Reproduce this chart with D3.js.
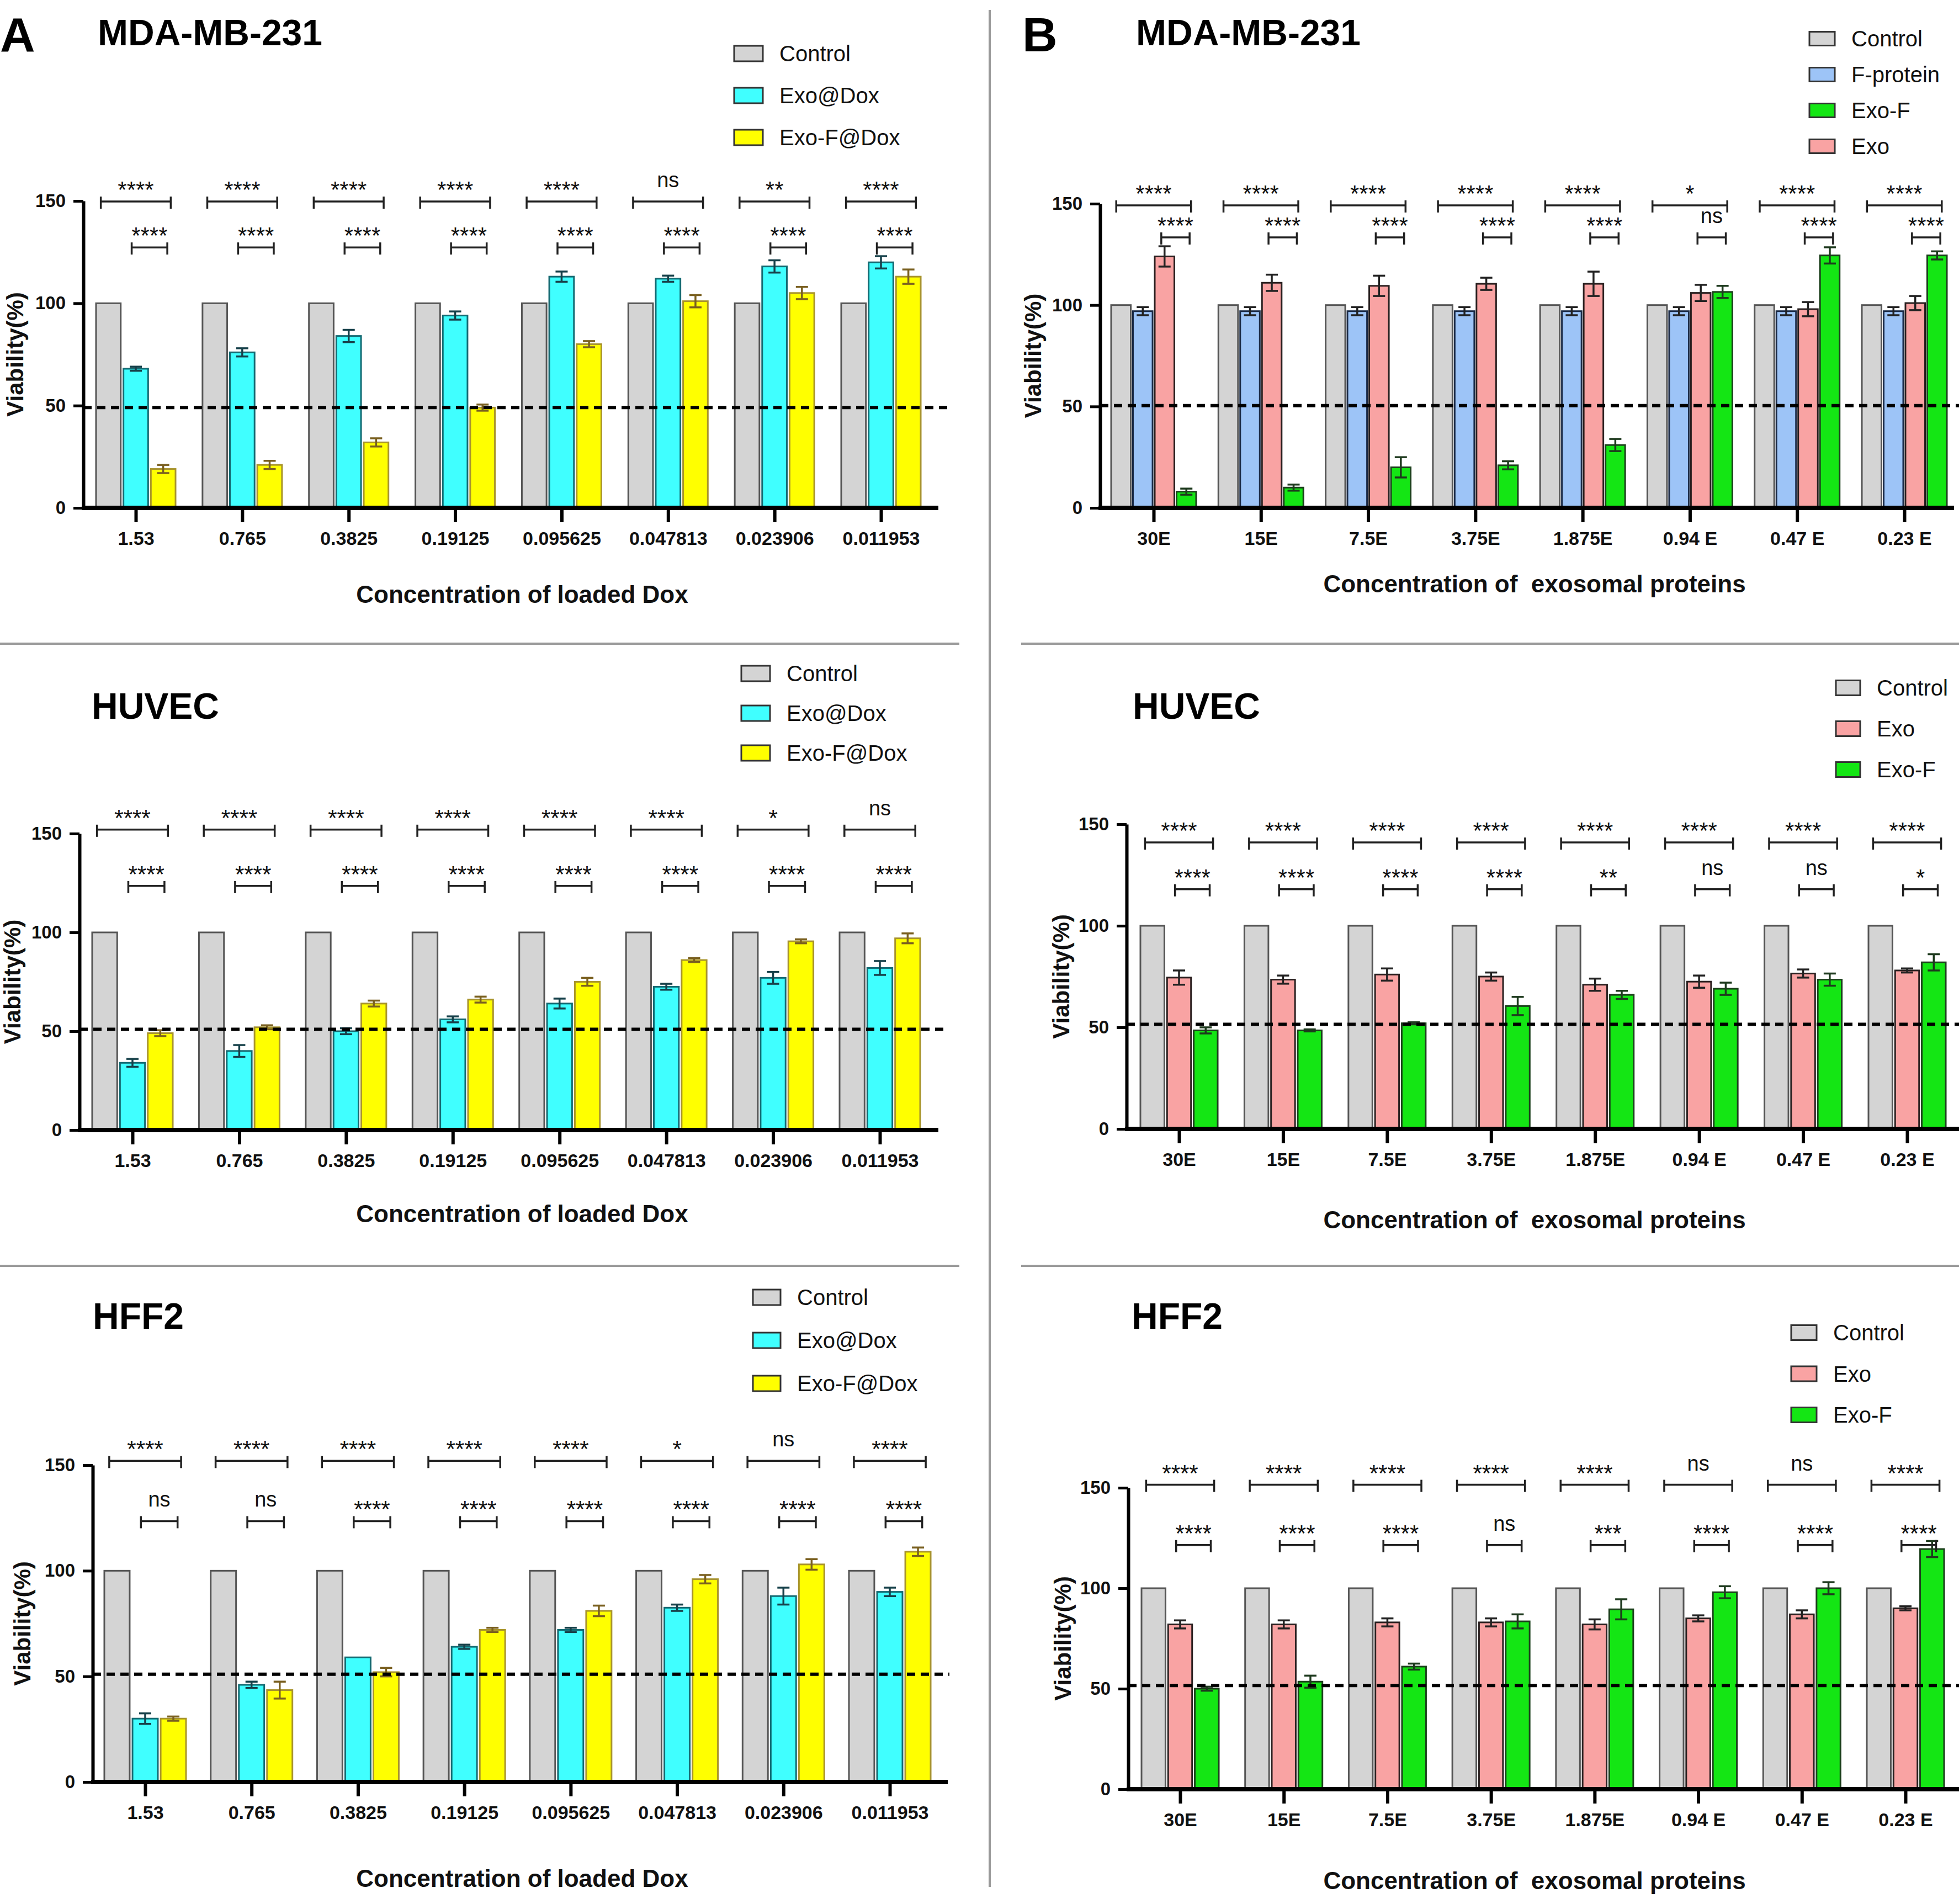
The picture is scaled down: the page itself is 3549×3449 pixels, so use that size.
<!DOCTYPE html>
<html>
<head>
<meta charset="utf-8">
<script src="https://d3js.org/d3.v7.min.js"></script>
<style>
  html, body { margin: 0; padding: 0; background: #fff; }
  svg { display: block; font-family: "Liberation Sans", Arial, sans-serif; }
  .xtitle { white-space: pre; }
</style>
</head>
<body>
<svg id="chart" width="3549" height="3449"></svg>
<script>
// categories
var doseLabels = ["1.53", "0.765", "0.3825", "0.19125", "0.095625", "0.047813", "0.023906", "0.011953"];
var proteinLabels = ["30E", "15E", "7.5E", "3.75E", "1.875E", "0.94 E", "0.47 E", "0.23 E"];
var yTicks = [0, 50, 100, 150];

var control = [100, 100, 100, 100, 100, 100, 100, 100];

// MDA-MB-231, loaded Dox
var mdaExoDox = [68, 76, 84, 94, 113, 112, 118, 120];
var mdaExoDoxErr = [1, 2, 3, 2, 2.5, 1.5, 3, 3];
var mdaExoFDox = [19, 21, 32, 49, 80, 101, 105, 113];
var mdaExoFDoxErr = [2, 2, 2, 1.5, 1.5, 3, 3, 3.5];
var mdaDoxTop = ["****", "****", "****", "****", "****", "ns", "**", "****"];
var mdaDoxLow = ["****", "****", "****", "****", "****", "****", "****", "****"];

// MDA-MB-231, exosomal proteins
var mdaFprot = [97, 97, 97, 97, 97, 97, 97, 97];
var mdaFprotErr = [2, 2, 2, 2, 2, 2, 2, 2];
var mdaExo = [124, 111, 109.5, 110.5, 110.5, 106, 98, 101];
var mdaExoErr = [5, 4, 5, 3, 6, 4, 3.5, 3.5];
var mdaExoF = [8, 10, 20, 21, 31, 106.5, 124.5, 124.5];
var mdaExoFErr = [1.5, 1.5, 5, 2, 3, 3, 4, 2];
var mdaProtTop = ["****", "****", "****", "****", "****", "*", "****", "****"];
var mdaProtLow = ["****", "****", "****", "****", "****", "ns", "****", "****"];

// HUVEC, loaded Dox
var huvExoDox = [34, 40, 50, 56, 64, 72.5, 77, 82];
var huvExoDoxErr = [2, 3, 1.5, 1.5, 2.5, 1.5, 3, 3.5];
var huvExoFDox = [49, 52, 64, 66, 75, 86, 95.5, 97];
var huvExoFDoxErr = [1.5, 1, 1.5, 1.5, 2, 1, 1, 2.5];
var huvDoxTop = ["****", "****", "****", "****", "****", "****", "*", "ns"];
var huvDoxLow = ["****", "****", "****", "****", "****", "****", "****", "****"];

// HUVEC, exosomal proteins
var huvExo = [74.5, 73.5, 76, 75, 71, 72.5, 76.5, 78];
var huvExoErr = [3.5, 2, 3, 2, 3, 3, 2, 1];
var huvExoF = [48.5, 48.5, 52, 60.5, 66, 69, 73.5, 82];
var huvExoFErr = [1.5, 0.5, 0.5, 4.5, 2, 3, 3, 4];
var huvProtTop = ["****", "****", "****", "****", "****", "****", "****", "****"];
var huvProtLow = ["****", "****", "****", "****", "**", "ns", "ns", "*"];

// HFF2, loaded Dox
var hffExoDox = [30, 46, 59, 64, 72, 82.5, 88, 90];
var hffExoDoxErr = [2.5, 1.5, 0, 1, 1, 1.5, 4, 2];
var hffExoFDox = [30, 43.5, 52, 72, 81, 96, 103, 109];
var hffExoFDoxErr = [1, 4, 2, 1, 2.5, 2, 2.5, 2];
var hffDoxTop = ["****", "****", "****", "****", "****", "*", "ns", "****"];
var hffDoxLow = ["ns", "ns", "****", "****", "****", "****", "****", "****"];

// HFF2, exosomal proteins
var hffExo = [82, 82, 83, 83, 82, 85, 87, 90];
var hffExoErr = [2, 2, 2, 2, 2.5, 1.5, 2, 1];
var hffExoF = [50, 53.5, 61, 83.5, 89.5, 98, 100, 119.5];
var hffExoFErr = [1, 3, 1.5, 3.5, 5, 3, 3, 4];
var hffProtTop = ["****", "****", "****", "****", "****", "ns", "ns", "****"];
var hffProtLow = ["****", "****", "****", "ns", "***", "****", "****", "****"];

var COL = {
    control: { fill: "#d4d4d4", stroke: "#555", err: "#333" },
    cyan: { fill: "#40ffff", stroke: "#146a72", err: "#17414a" },
    yellow: { fill: "#ffff00", stroke: "#a8942c", err: "#7a6020" },
    blue: { fill: "#9dc4f7", stroke: "#1c2c48", err: "#222" },
    pink: { fill: "#f9a3a3", stroke: "#2a2020", err: "#222" },
    green: { fill: "#14e614", stroke: "#1c401c", err: "#1e3a1e" }
};

function ser(name, values, err, c) {
    return { name: name, values: values, err: err, col: COL[c] };
}

var svg = d3.select("#chart");

var panels = [
    { title: "MDA-MB-231", tx: 177, ty: 82, cats: doseLabels, axisX: 151, xEnd: 1700, y0: 920, y150: 364,
      cx: [246, 1596], gw: 144,
      bars: [ser("Control", control, null, "control"), ser("Exo@Dox", mdaExoDox, mdaExoDoxErr, "cyan"), ser("Exo-F@Dox", mdaExoFDox, mdaExoFDoxErr, "yellow")],
      legend: [0, 1, 2], lx: 1330, ly: 97, ldy: 76, lw: 52, lh: 28,
      dash: 49, dashEnd: 1716, top: mdaDoxTop, low: mdaDoxLow, topLv: 149.7, lowLv: 127.3,
      xTitle: "Concentration of loaded Dox", xtx: 946, xty: 1092, ylx: 27 },
    { title: "MDA-MB-231", tx: 2058, ty: 82, cats: proteinLabels, axisX: 1993, xEnd: 3540, y0: 920, y150: 369,
      cx: [2090, 3450], gw: 154,
      bars: [ser("Control", control, null, "control"), ser("F-protein", mdaFprot, mdaFprotErr, "blue"), ser("Exo", mdaExo, mdaExoErr, "pink"), ser("Exo-F", mdaExoF, mdaExoFErr, "green")],
      legend: [0, 1, 3, 2], lx: 3278, ly: 70, ldy: 65, lw: 46, lh: 25,
      dash: 50.4, dashEnd: 3549, top: mdaProtTop, low: mdaProtLow, topLv: 149.2, lowLv: 133.4,
      xTitle: "Concentration of  exosomal proteins", xtx: 2780, xty: 1073, ylx: 1871 },
    { title: "HUVEC", tx: 166, ty: 1302, cats: doseLabels, axisX: 144, xEnd: 1700, y0: 2047, y150: 1510,
      cx: [240, 1594], gw: 146,
      bars: [ser("Control", control, null, "control"), ser("Exo@Dox", huvExoDox, huvExoDoxErr, "cyan"), ser("Exo-F@Dox", huvExoFDox, huvExoFDoxErr, "yellow")],
      legend: [0, 1, 2], lx: 1343, ly: 1220, ldy: 72, lw: 52, lh: 28,
      dash: 51, dashEnd: 1717, top: huvDoxTop, low: huvDoxLow, topLv: 152, lowLv: 123.5,
      xTitle: "Concentration of loaded Dox", xtx: 946, xty: 2214, ylx: 22 },
    { title: "HUVEC", tx: 2052, ty: 1302, cats: proteinLabels, axisX: 2041, xEnd: 3549, y0: 2045, y150: 1493,
      cx: [2136, 3455], gw: 140,
      bars: [ser("Control", control, null, "control"), ser("Exo", huvExo, huvExoErr, "pink"), ser("Exo-F", huvExoF, huvExoFErr, "green")],
      legend: [0, 1, 2], lx: 3326, ly: 1246, ldy: 74, lw: 44, lh: 27,
      dash: 51.5, dashEnd: 3549, top: huvProtTop, low: huvProtLow, topLv: 141, lowLv: 118,
      xTitle: "Concentration of  exosomal proteins", xtx: 2780, xty: 2225, ylx: 1922 },
    { title: "HFF2", tx: 168, ty: 2407, cats: doseLabels, axisX: 168, xEnd: 1717, y0: 3228, y150: 2654,
      cx: [263, 1612], gw: 148,
      bars: [ser("Control", control, null, "control"), ser("Exo@Dox", hffExoDox, hffExoDoxErr, "cyan"), ser("Exo-F@Dox", hffExoFDox, hffExoFDoxErr, "yellow")],
      legend: [0, 1, 2], lx: 1364, ly: 2350, ldy: 78, lw: 50, lh: 28,
      dash: 51, dashEnd: 1720, top: hffDoxTop, low: hffDoxLow, topLv: 152, lowLv: 123.5,
      xTitle: "Concentration of loaded Dox", xtx: 946, xty: 3418, ylx: 40 },
    { title: "HFF2", tx: 2050, ty: 2407, cats: proteinLabels, axisX: 2044, xEnd: 3549, y0: 3241, y150: 2695,
      cx: [2138, 3452], gw: 140,
      bars: [ser("Control", control, null, "control"), ser("Exo", hffExo, hffExoErr, "pink"), ser("Exo-F", hffExoF, hffExoFErr, "green")],
      legend: [0, 1, 2], lx: 3245, ly: 2414, ldy: 74.5, lw: 46, lh: 27,
      dash: 51.6, dashEnd: 3549, top: hffProtTop, low: hffProtLow, topLv: 151.5, lowLv: 121.5,
      xTitle: "Concentration of  exosomal proteins", xtx: 2780, xty: 3422, ylx: 1925 }
];

// separators
var sep = svg.append("g").attr("stroke", "#9a9a9a").attr("stroke-width", 4);
sep.append("line").attr("x1", 1793).attr("x2", 1793).attr("y1", 18).attr("y2", 3418);
[1166, 2293].forEach(function(yy) {
    sep.append("line").attr("x1", 0).attr("x2", 1738).attr("y1", yy).attr("y2", yy);
    sep.append("line").attr("x1", 1850).attr("x2", 3549).attr("y1", yy).attr("y2", yy);
});

// panel letters
svg.append("text").attr("x", 0).attr("y", 93).attr("font-size", 88).attr("font-weight", "bold").text("A");
svg.append("text").attr("x", 1852).attr("y", 93).attr("font-size", 88).attr("font-weight", "bold").text("B");

function drawPanel(p) {
    var g = svg.append("g");
    var y = d3.scaleLinear().domain([0, 150]).range([p.y0, p.y150]);
    var x = d3.scalePoint().domain(p.cats).range(p.cx);
    var sub = d3.scaleBand().domain(p.bars.map(function(b) { return b.name; }))
        .range([-p.gw / 2, p.gw / 2]).paddingInner(0.1);
    var bw = sub.bandwidth();

    g.append("text").attr("x", p.tx).attr("y", p.ty).attr("font-size", 66)
        .attr("font-weight", "bold").text(p.title);

    // bars
    p.bars.forEach(function(s) {
        var rows = p.cats.map(function(c, i) {
            return { c: c, v: s.values[i], e: s.err ? s.err[i] : 0 };
        });
        var sg = g.append("g");
        sg.selectAll("rect").data(rows).join("rect")
            .attr("x", function(d) { return x(d.c) + sub(s.name); })
            .attr("y", function(d) { return y(d.v); })
            .attr("width", bw)
            .attr("height", function(d) { return y(0) - y(d.v); })
            .attr("fill", s.col.fill)
            .attr("stroke", s.col.stroke)
            .attr("stroke-width", 3);
        if (s.err) {
            var eg = sg.append("g").attr("stroke", s.col.err).attr("stroke-width", 3.5);
            var er = rows.filter(function(d) { return d.e > 0; });
            var cxf = function(d) { return x(d.c) + sub(s.name) + bw / 2; };
            eg.selectAll("line.v").data(er).join("line").attr("class", "v")
                .attr("x1", cxf).attr("x2", cxf)
                .attr("y1", function(d) { return y(d.v + d.e); })
                .attr("y2", function(d) { return y(d.v - d.e); });
            [1, -1].forEach(function(sgn) {
                eg.selectAll("line.c" + (sgn > 0 ? "u" : "d")).data(er).join("line")
                    .attr("class", "c" + (sgn > 0 ? "u" : "d"))
                    .attr("x1", function(d) { return cxf(d) - 11; })
                    .attr("x2", function(d) { return cxf(d) + 11; })
                    .attr("y1", function(d) { return y(d.v + sgn * d.e); })
                    .attr("y2", function(d) { return y(d.v + sgn * d.e); });
            });
        }
    });

    // 50% reference line
    g.append("line").attr("x1", p.axisX).attr("x2", p.dashEnd)
        .attr("y1", y(p.dash)).attr("y2", y(p.dash))
        .attr("stroke", "#000").attr("stroke-width", 6).attr("stroke-dasharray", "15,10");

    // significance brackets
    var n = p.bars.length;
    var lastA = sub(p.bars[n - 2].name) + bw / 2, lastB = sub(p.bars[n - 1].name) + bw / 2;
    function bracket(cls, labels, lv, offs, half) {
        var bg = g.append("g").attr("class", cls);
        var rows = p.cats.map(function(c, i) { return { c: c, t: labels[i] }; });
        var mid = function(d) { return x(d.c) + offs; };
        bg.selectAll("line.h").data(rows).join("line").attr("class", "h")
            .attr("x1", function(d) { return mid(d) - half; })
            .attr("x2", function(d) { return mid(d) + half; })
            .attr("y1", y(lv)).attr("y2", y(lv))
            .attr("stroke", "#222").attr("stroke-width", 3.5);
        [-1, 1].forEach(function(sgn) {
            bg.selectAll("line.e" + sgn).data(rows).join("line").attr("class", "e" + sgn)
                .attr("x1", function(d) { return mid(d) + sgn * half; })
                .attr("x2", function(d) { return mid(d) + sgn * half; })
                .attr("y1", y(lv) - 9).attr("y2", y(lv) + 13)
                .attr("stroke", "#222").attr("stroke-width", 3.5);
        });
        bg.selectAll("text").data(rows).join("text")
            .attr("x", mid)
            .attr("y", function(d) { return y(lv) - (d.t === "ns" ? 26 : 7); })
            .attr("text-anchor", "middle")
            .attr("font-size", function(d) { return d.t === "ns" ? 38 : 42; })
            .attr("fill", "#111")
            .text(function(d) { return d.t; });
    }
    bracket("top", p.top, p.topLv, 0, p.gw * 0.44);
    bracket("low", p.low, p.lowLv, (lastA + lastB) / 2, sub.step() * 0.65);

    // y axis
    var ya = g.append("g").attr("transform", "translate(" + p.axisX + ",0)")
        .call(d3.axisLeft(y).tickValues(yTicks).tickSize(18).tickSizeOuter(0).tickPadding(14));
    ya.select(".domain").attr("stroke", "#000").attr("stroke-width", 6);
    ya.selectAll(".tick line").attr("stroke", "#000").attr("stroke-width", 5);
    ya.selectAll(".tick text").attr("font-size", 33).attr("font-weight", "bold")
        .attr("font-family", "Liberation Sans, Arial, sans-serif").attr("fill", "#111");

    // x axis
    var xa = g.append("g").attr("transform", "translate(0," + p.y0 + ")")
        .call(d3.axisBottom(x).tickSize(26).tickSizeOuter(0).tickPadding(17));
    xa.select(".domain").remove();
    xa.selectAll(".tick line").attr("stroke", "#000").attr("stroke-width", 6);
    xa.selectAll(".tick text").attr("font-size", 34).attr("font-weight", "bold")
        .attr("font-family", "Liberation Sans, Arial, sans-serif").attr("fill", "#111");
    g.append("line").attr("x1", p.axisX - 3).attr("x2", p.xEnd)
        .attr("y1", p.y0).attr("y2", p.y0)
        .attr("stroke", "#000").attr("stroke-width", 8);

    // axis titles
    g.append("text").attr("class", "xtitle").attr("x", p.xtx).attr("y", p.xty).attr("text-anchor", "middle")
        .attr("font-size", 44).attr("font-weight", "bold").attr("fill", "#111").text(p.xTitle);
    var ym = (p.y0 + p.y150) / 2;
    g.append("text").attr("transform", "translate(" + p.ylx + "," + ym + ") rotate(-90)")
        .attr("text-anchor", "middle").attr("dy", "0.35em")
        .attr("font-size", 42).attr("font-weight", "bold").attr("fill", "#111").text("Viability(%)");

    // legend
    var lg = g.append("g");
    p.legend.forEach(function(bi, k) {
        var s = p.bars[bi];
        var yy = p.ly + k * p.ldy;
        lg.append("rect").attr("x", p.lx).attr("y", yy - p.lh / 2).attr("width", p.lw).attr("height", p.lh)
            .attr("fill", s.col.fill).attr("stroke", "#333").attr("stroke-width", 3);
        lg.append("text").attr("x", p.lx + p.lw + 30).attr("y", yy + 14)
            .attr("font-size", 40).attr("fill", "#111").text(s.name);
    });
}

panels.forEach(drawPanel);
</script>
</body>
</html>
